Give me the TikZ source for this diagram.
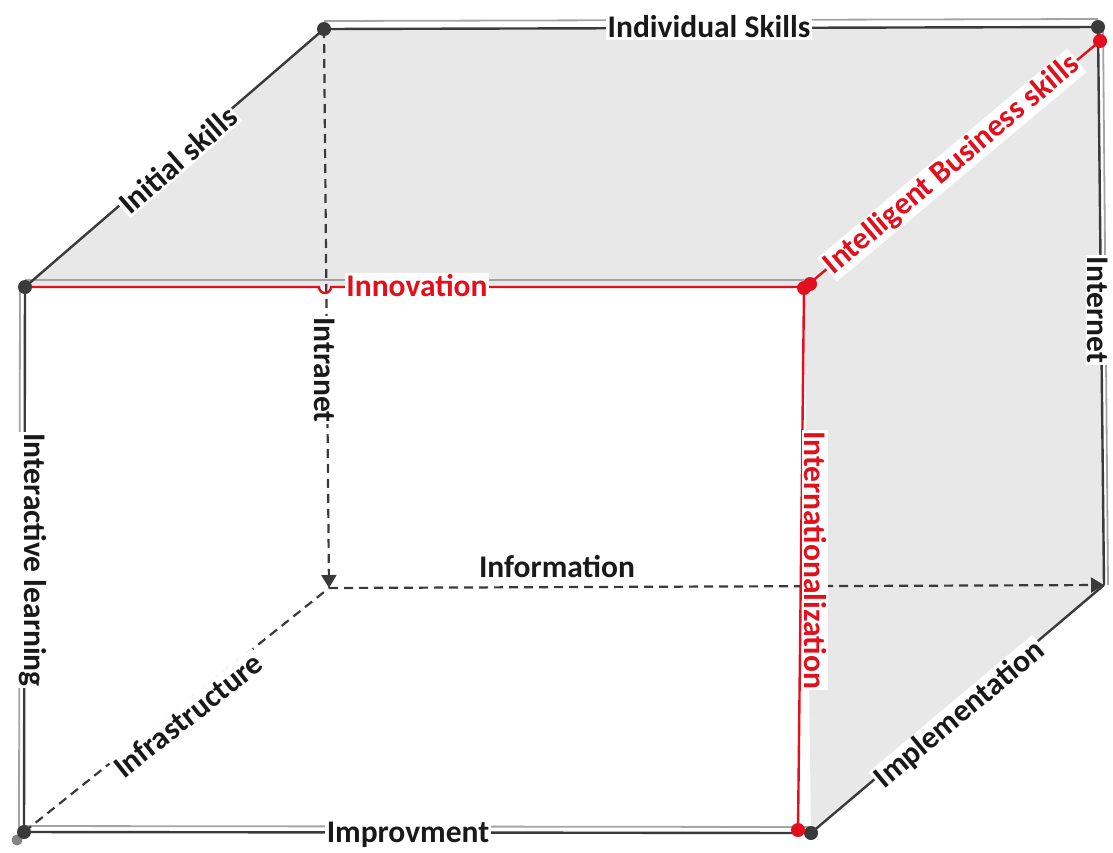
\documentclass[tikz,border=0pt]{standalone}
\usepackage{fontspec}
\setmainfont{Carlito}
\usetikzlibrary{arrows.meta}
\definecolor{edgec}{HTML}{3A3A3A}
\definecolor{shad}{HTML}{A4A4A4}
\definecolor{facec}{HTML}{E8E8E8}
\definecolor{redc}{HTML}{E2101C}
\begin{document}
\begin{tikzpicture}[x=1pt,y=-1pt,
  edge/.style={draw=edgec, line width=2.4pt},
  shadowline/.style={draw=shad, line width=1.8pt},
  redge/.style={draw=redc, line width=2.4pt},
  dashedge/.style={draw=edgec, line width=2.2pt, dash pattern=on 9pt off 6pt},
  lab/.style={fill=white, inner sep=1.5pt, font=\fontsize{31.5}{31.5}\selectfont\bfseries, text=black!90},
  rlab/.style={lab, text=redc},
  dot/.style={circle, fill=edgec, inner sep=0pt, minimum size=14pt},
  rdot/.style={circle, fill=redc, inner sep=0pt, minimum size=14pt},
  tip/.style={-{Triangle[length=13pt,width=15pt]}}
]
\useasboundingbox (0,0) rectangle (1113,852);
% vertices
\coordinate (FTL) at (25,287);
\coordinate (FTR) at (804,287);
\coordinate (FBL) at (24,832);
\coordinate (FBR) at (811,833);
\coordinate (BTL) at (324,29);
\coordinate (BTR) at (1098,27);
\coordinate (BBL) at (329,588);
\coordinate (BBR) at (1104,585);
\coordinate (FTRr) at (804,288);
\coordinate (BTRr) at (1100,41);
\coordinate (FBRr) at (798,830);
\coordinate (HopL) at (319,287);
% faces
\fill[facec] (BTL) -- (BTR) -- (FTR) -- (FTL) -- cycle;
\fill[facec] (FTR) -- (BTR) -- (BBR) -- (FBR) -- cycle;
% shadows
\draw[shadowline] ([yshift=8pt]BTL) -- ([yshift=8pt]BTR);
\draw[shadowline] ([yshift=7pt]FTL) -- ([yshift=7pt]FTR);
\draw[shadowline] ([xshift=-5pt]FTL) -- ([xshift=-5pt]FBL);
\draw[shadowline] ([yshift=6pt]FBL) -- ([yshift=6pt]FBR);
\draw[shadowline] ([xshift=5pt]BTR) -- ([xshift=4pt]BBR);
% hidden (dashed) edges
\draw[dashedge, tip] (BTL) -- (BBL);
\draw[dashedge, tip] (BBL) -- (BBR);
\draw[dashedge] (FBL) -- (BBL);
% solid edges
\draw[edge] (BTL) -- (BTR);
\draw[edge] (FTL) -- (BTL);
\draw[edge] (FTL) -- (FBL);
\draw[edge] (FBL) -- (FBR);
\draw[edge] (BTR) -- (BBR);
\draw[edge] (FBR) -- (BBR);
% red edges
\draw[redge] (FTL) -- (HopL) arc[start angle=180, end angle=360, radius=6pt] -- (FTR);
\draw[redge] (FTRr) -- (FBRr);
\draw[redge] (FTRr) -- (BTRr);
% labels
\node[lab] (lInd) at (709,27) {Individual Skills};
\node[lab, rotate=41] (lIni) at (178,160) {Initial skills};
\node[rlab, rotate=40] (lIBS) at (952,165) {Intelligent Business skills};
\node[rlab] (lInn) at (417,286) {Innovation};
\node[lab, rotate=-90] (lIntra) at (325,370) {Intranet};
\node[lab, rotate=-90] (lInternet) at (1098,310) {Internet};
\node[lab, rotate=-90] (lIL) at (33,560) {Interactive learning};
\node[rlab, rotate=-90] (lIntl) at (815,560) {Internationalization};
\node[lab, fill=none] (lInfo) at (557,567) {Information};
\node[lab, rotate=38.5] (lInfra) at (188,715) {Infrastructure};
\node[lab, rotate=40] (lImpl) at (960,715) {Implementation};
\node[lab] (lImp) at (408,835) {Improvment};
% dots
\node[circle, fill=shad!80!black, inner sep=0pt, minimum size=11pt] (dFBLs) at (17,840) {};
\node[dot] (dFTL) at (FTL) {};
\node[dot] (dBTL) at (BTL) {};
\node[dot] (dBTR) at (BTR) {};
\node[dot] (dFBL) at (FBL) {};
\node[dot] (dFBR) at (FBR) {};
\node[rdot] (dFTR) at (FTRr) {};
\node[rdot] (dFTR2) at (810,284) {};
\node[rdot] (dBTRr) at (BTRr) {};
\node[rdot] (dFBRr) at (FBRr) {};
\end{tikzpicture}
\end{document}
